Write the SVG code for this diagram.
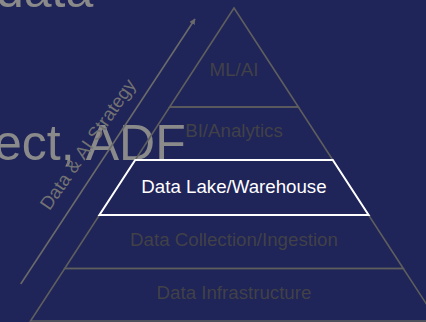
<svg xmlns="http://www.w3.org/2000/svg" width="426" height="322" viewBox="0 0 426 322">
  <defs>
    <style>
      .bg-text { font-family: "Liberation Sans", Arial, sans-serif; font-size: 50px; fill: #8a8a8a; }
      .lvl { fill: none; stroke: #5e5e5e; stroke-width: 1.6; }
      .lvl-hl { fill: none; stroke: #ffffff; stroke-width: 2; }
      .lbl { font-family: "Liberation Sans", Arial, sans-serif; font-size: 18.7px; fill: #414147; text-anchor: middle; }
      .lbl-hl { font-family: "Liberation Sans", Arial, sans-serif; font-size: 18.7px; fill: #ffffff; text-anchor: middle; }
      .axis { stroke: #6a6a6a; stroke-width: 1.6; fill: none; }
      .axis-lbl { font-family: "Liberation Sans", Arial, sans-serif; font-size: 18.7px; fill: #727272; text-anchor: middle; }
    </style>
    <marker id="ah" viewBox="0 0 10 10" refX="9" refY="5" markerWidth="6" markerHeight="6" orient="auto" markerUnits="userSpaceOnUse">
      <path d="M0,0 L10,5 L0,10 z" fill="#6a6a6a"/>
    </marker>
  </defs>
  <rect x="0" y="0" width="426" height="322" fill="#1f2459"/>
  <text class="bg-text" x="-4" y="7">data</text>
  <text class="bg-text" x="-6" y="160">ect, ADF</text>

  <g id="connectors">
    <line class="axis" x1="20.7" y1="284" x2="195" y2="19" marker-end="url(#ah)"/>
    <text class="axis-lbl" x="93" y="148" transform="rotate(-55.5 93 148)">Data &amp; AI Strategy</text>
  </g>

  <g id="ml-ai">
    <polygon class="lvl" points="234,8 298.4,107 169.6,107"/>
    <text class="lbl" x="234" y="76">ML/AI</text>
  </g>
  <g id="bi-analytics">
    <polygon class="lvl" points="169.6,107 298.4,107 332.8,160 135.2,160"/>
    <text class="lbl" x="234" y="137">BI/Analytics</text>
  </g>
  <g id="data-collection">
    <polygon class="lvl" points="99.4,215 368.6,215 403.3,268.5 64.7,268.5"/>
    <text class="lbl" x="234" y="246">Data Collection/Ingestion</text>
  </g>
  <g id="data-infrastructure">
    <polygon class="lvl" points="64.7,268.5 403.3,268.5 437.5,321 30.5,321"/>
    <text class="lbl" x="234" y="299">Data Infrastructure</text>
  </g>
  <g id="data-lake">
    <polygon class="lvl-hl" points="135.2,160 332.8,160 368.6,215 99.4,215"/>
    <text class="lbl-hl" x="234" y="193">Data Lake/Warehouse</text>
  </g>
</svg>
